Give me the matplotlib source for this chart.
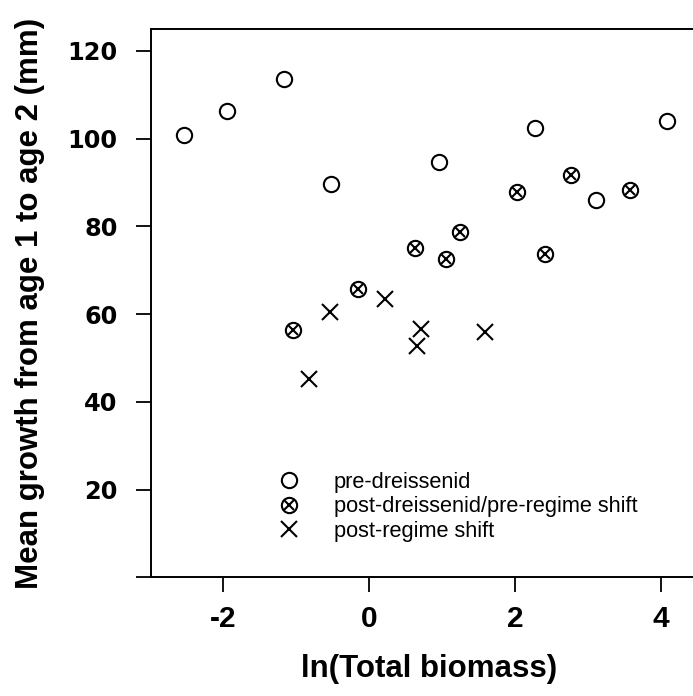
import matplotlib.pyplot as plt
from matplotlib.lines import Line2D

plt.rcParams['axes.unicode_minus'] = False

## data

# pre-dreissenid (open circles)
pre_x = [-2.53, -1.95, -1.16, -0.52, 0.96, 2.27, 3.11, 4.08]
pre_y = [100.9, 106.2, 113.5, 89.6, 94.6, 102.5, 86.0, 104.0]

# post-dreissenid / pre-regime shift (circle with cross)
mid_x = [-1.04, -0.15, 0.63, 1.05, 1.24, 2.03, 2.41, 2.77, 3.57]
mid_y = [56.4, 65.8, 75.0, 72.6, 78.7, 87.8, 73.8, 91.8, 88.3]

# post-regime shift (crosses)
post_x = [-0.82, -0.53, 0.22, 0.65, 0.71, 1.58]
post_y = [45.3, 60.6, 63.5, 52.7, 56.5, 55.9]

x_ticks = [-2, 0, 2, 4]
y_ticks = [0, 20, 40, 60, 80, 100, 120]
y_ticklabels = ["", "20", "40", "60", "80", "100", "120"]

labels = ["pre-dreissenid", "post-dreissenid/pre-regime shift", "post-regime shift"]

## figure

fig = plt.figure(figsize=(6.93, 6.96), dpi=100)
# the box runs past the right edge of the picture, so only its left part shows
ax = fig.add_axes([0.2174, 0.1705, 0.8433, 0.7878])

ms = 11
mk = dict(linestyle="none", color="black", markerfacecolor="none", markeredgewidth=1.5)

ax.plot(pre_x, pre_y, marker="o", markersize=ms, **mk)
ax.plot(mid_x, mid_y, marker="o", markersize=ms, **mk)
ax.plot(mid_x, mid_y, marker="x", markersize=ms * 0.68, **mk)
ax.plot(post_x, post_y, marker="x", markersize=ms * 1.02, **mk)

ax.set_xlim(-2.99, 5.01)
ax.set_ylim(0, 125)

for s in ax.spines.values():
    s.set_linewidth(1.4)
ax.spines["right"].set_visible(False)

ax.set_xticks(x_ticks)
ax.set_xticklabels([str(v) for v in x_ticks], fontsize=21.5, fontweight="bold",
                   family="Liberation Sans")
ax.set_yticks(y_ticks)
ax.set_yticklabels(y_ticklabels, fontsize=17.3, fontweight="bold", family="DejaVu Sans")
ax.tick_params(axis="both", direction="out", length=10.8, width=1.3)
ax.tick_params(axis="x", pad=9)
ax.tick_params(axis="y", pad=13)

ax.set_xlabel("ln(Total biomass)", fontsize=22.5, fontweight="bold", family="Liberation Sans")
ax.set_ylabel("Mean growth from age 1 to age 2 (mm)", fontsize=22.5, fontweight="bold",
              family="Liberation Sans")
ax.xaxis.set_label_coords(0.476, -0.14)
ax.yaxis.set_label_coords(-0.181, 0.5)

## legend

h_pre = Line2D([], [], marker="o", markersize=ms, **mk)
h_mid = (Line2D([], [], marker="o", markersize=ms, **mk),
         Line2D([], [], marker="x", markersize=ms * 0.68, **mk))
h_post = Line2D([], [], marker="x", markersize=ms * 1.02, **mk)

ax.legend([h_pre, h_mid, h_post], labels, loc="upper left",
          bbox_to_anchor=(0.218, 0.193), frameon=False, numpoints=1,
          handlelength=1.0, handletextpad=1.55, labelspacing=0.17,
          borderpad=0, borderaxespad=0,
          prop={"family": "Liberation Sans", "size": 15.7})

fig.savefig("out.png", dpi=100)
